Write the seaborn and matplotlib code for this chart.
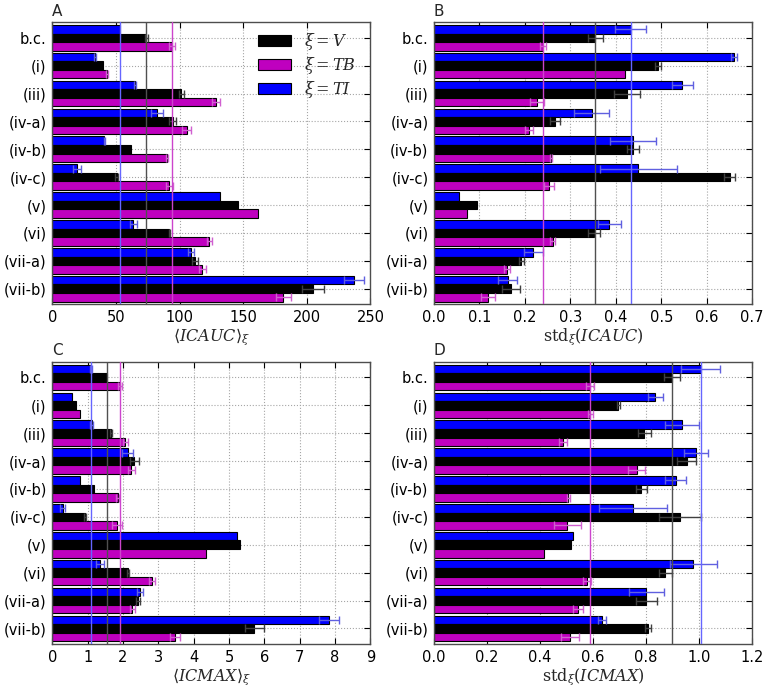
import numpy as np
import pandas as pd
import matplotlib
matplotlib.use("Agg")
import matplotlib.pyplot as plt
import seaborn as sns
from matplotlib.patches import Patch

categories = ['b.c.', '(i)', '(iii)', '(iv-a)', '(iv-b)', '(iv-c)', '(v)', '(vi)', '(vii-a)', '(vii-b)']

# Panel A: <ICAUC>
auc_mean_V = [74, 39.5, 101.5, 94.5, 61.5, 50.5, 146, 92, 112, 205]
auc_mean_V_err = [1, 0, 2, 3, 0, 1.3, 0, 0.5, 2.4, 8.7]
auc_mean_TB = [94.4, 43, 128.5, 105.5, 90, 92, 162, 123.5, 118, 181.5]
auc_mean_TB_err = [2.4, 0.5, 3, 3.4, 1, 2.6, 0, 1.8, 2.9, 5.8]
auc_mean_TI = [53, 33.5, 65, 82.5, 41, 19.5, 132, 63.7, 109, 237]
auc_mean_TI_err = [0, 0.7, 1, 4.7, 0.5, 3.4, 0, 2.6, 2, 8.1]

# Panel B: std(ICAUC)
auc_std_V = [0.355, 0.4926, 0.425, 0.266, 0.438, 0.651, 0.0946, 0.353, 0.192, 0.170]
auc_std_V_err = [0.016, 0.0066, 0.029, 0.011, 0.0125, 0.0125, 0, 0.013, 0.005, 0.0198]
auc_std_TB = [0.24, 0.4207, 0.2265, 0.209, 0.258, 0.253, 0.0733, 0.261, 0.1605, 0.1187]
auc_std_TB_err = [0.0066, 0, 0.015, 0.008, 0.002, 0.011, 0, 0.005, 0.006, 0.0154]
auc_std_TI = [0.4325, 0.660, 0.546, 0.3467, 0.4383, 0.450, 0.054, 0.386, 0.2184, 0.162]
auc_std_TI_err = [0.035, 0.006, 0.023, 0.038, 0.05, 0.084, 0, 0.025, 0.021, 0.0205]

# Panel C: <ICMAX>
max_mean_V = [1.55, 0.68, 1.67, 2.32, 1.19, 0.92, 5.32, 2.15, 2.43, 5.71]
max_mean_V_err = [0, 0, 0.03, 0.12, 0, 0.03, 0, 0.03, 0.06, 0.27]
max_mean_TB = [1.91, 0.77, 2.06, 2.24, 1.85, 1.83, 4.36, 2.83, 2.26, 3.47]
max_mean_TB_err = [0.06, 0, 0.07, 0.09, 0.04, 0.15, 0, 0.09, 0.07, 0.14]
max_mean_TI = [1.09, 0.56, 1.11, 2.13, 0.79, 0.29, 5.24, 1.36, 2.48, 7.83]
max_mean_TI_err = [0.02, 0, 0.03, 0.15, 0, 0.07, 0, 0.11, 0.09, 0.27]

# Panel D: std(ICMAX)
max_std_V = [0.899, 0.695, 0.794, 0.953, 0.782, 0.928, 0.518, 0.873, 0.801, 0.808]
max_std_V_err = [0.03, 0.005, 0.026, 0.035, 0.021, 0.078, 0, 0.023, 0.039, 0.011]
max_std_TB = [0.588, 0.59, 0.488, 0.764, 0.507, 0.503, 0.415, 0.578, 0.543, 0.514]
max_std_TB_err = [0.016, 0.008, 0.015, 0.031, 0.006, 0.051, 0, 0.014, 0.018, 0.033]
max_std_TI = [1.006, 0.835, 0.935, 0.988, 0.912, 0.751, 0.523, 0.978, 0.801, 0.634]
max_std_TI_err = [0.073, 0.029, 0.063, 0.044, 0.04, 0.127, 0, 0.089, 0.065, 0.016]

series_order = ['TI', 'V', 'TB']   # top to bottom within a group
legend_order = ['V', 'TB', 'TI']
colors = {'V': '#000000', 'TB': '#bf00bf', 'TI': '#0000ff'}
err_colors = {'V': '#404040', 'TB': '#d060d0', 'TI': '#6060e0'}
line_colors = {'V': '#505050', 'TB': '#cc44cc', 'TI': '#6666ff'}
legend_labels = {'V': r'$\xi{=}V$', 'TB': r'$\xi{=}TB$', 'TI': r'$\xi{=}TI$'}

panels = [
    ('A', {'V': (auc_mean_V, auc_mean_V_err), 'TB': (auc_mean_TB, auc_mean_TB_err), 'TI': (auc_mean_TI, auc_mean_TI_err)},
     r'$\langle ICAUC\rangle_\xi$', (0, 250), np.arange(0, 251, 50), '%d'),
    ('B', {'V': (auc_std_V, auc_std_V_err), 'TB': (auc_std_TB, auc_std_TB_err), 'TI': (auc_std_TI, auc_std_TI_err)},
     r'$\mathrm{std}_\xi(ICAUC)$', (0, 0.7), np.arange(0, 0.71, 0.1), '%.1f'),
    ('C', {'V': (max_mean_V, max_mean_V_err), 'TB': (max_mean_TB, max_mean_TB_err), 'TI': (max_mean_TI, max_mean_TI_err)},
     r'$\langle ICMAX\rangle_\xi$', (0, 9), np.arange(0, 9.1, 1), '%d'),
    ('D', {'V': (max_std_V, max_std_V_err), 'TB': (max_std_TB, max_std_TB_err), 'TI': (max_std_TI, max_std_TI_err)},
     r'$\mathrm{std}_\xi(ICMAX)$', (0, 1.2), np.arange(0, 1.21, 0.2), '%.1f'),
]

sns.set_theme(style='white')
plt.rcParams['font.family'] = ['DejaVu Sans']
plt.rcParams['mathtext.fontset'] = 'dejavuserif'

fig, axes = plt.subplots(2, 2, figsize=(7.69, 6.93), dpi=100)
fig.subplots_adjust(left=0.068, right=0.978, top=0.968, bottom=0.0707, wspace=0.2, hspace=0.204)

for ax, (letter, data, xlabel, xlim, xticks, fmt) in zip(axes.flat, panels):
    rows = []
    for s in series_order:
        vals, errs = data[s]
        for c, v in zip(categories, vals):
            rows.append({'cat': c, 'series': s, 'value': v})
    df = pd.DataFrame(rows)
    sns.barplot(data=df, y='cat', x='value', hue='series', order=categories,
                hue_order=series_order, palette=colors, orient='h', width=0.92,
                saturation=1, edgecolor='black', linewidth=0.8, errorbar=None,
                legend=False, ax=ax, zorder=2)
    for s, cont in zip(series_order, ax.containers):
        vals, errs = data[s]
        ys = np.array([p.get_y() + p.get_height() / 2 for p in cont.patches])
        xs = np.array(vals, dtype=float)
        es = np.array(errs, dtype=float)
        m = es > 0
        ax.errorbar(xs[m], ys[m], xerr=es[m], fmt='none', ecolor=err_colors[s],
                    elinewidth=1.0, capsize=3, capthick=1.0, zorder=3)
        ax.axvline(vals[0], color=line_colors[s], lw=1.0, zorder=4)

    ax.set_xlim(*xlim)
    ax.set_ylim(9.56, -0.56)
    ax.set_xticks(xticks)
    ax.set_xticklabels([fmt % t for t in xticks])
    ax.set_ylabel('')
    ax.set_xlabel(xlabel, fontsize=11.5, labelpad=1)
    ax.tick_params(axis='both', which='both', direction='in', length=4, width=0.8,
                   top=True, right=True, bottom=True, left=True, labelsize=10.5,
                   colors='black', pad=4)
    ax.grid(True, linestyle=':', color='0.65', linewidth=0.8)
    ax.set_axisbelow(True)
    for sp in ax.spines.values():
        sp.set_visible(True)
        sp.set_color('0.3')
        sp.set_linewidth(1.0)
    ax.text(0.0, 1.012, letter, transform=ax.transAxes, fontsize=11, ha='left', va='bottom')

handles = [Patch(facecolor=colors[s], edgecolor='black', linewidth=0.8) for s in legend_order]
axes[0, 0].legend(handles, [legend_labels[s] for s in legend_order], loc='upper right',
                  bbox_to_anchor=(1.0, 1.02), frameon=False, fontsize=11.5,
                  handlelength=2.1, handleheight=0.7, labelspacing=0.2, handletextpad=0.8)

fig.savefig('out.png', dpi=100)
